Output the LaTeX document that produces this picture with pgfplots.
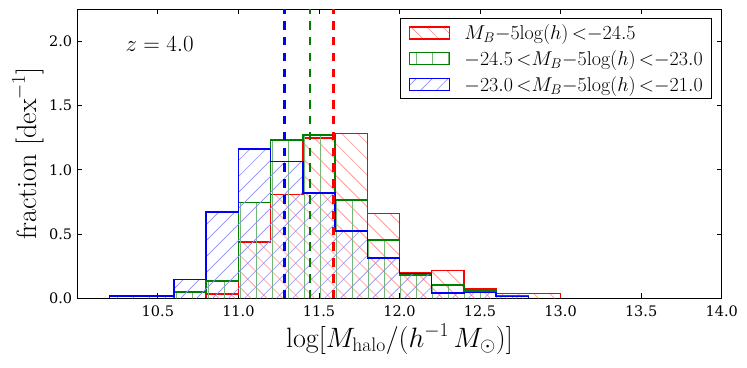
\RequirePackage{fix-cm}
\documentclass[border=0pt]{standalone}
\usepackage{fontspec}
\usepackage{pgfplots}
\pgfplotsset{compat=1.18}
\usetikzlibrary{patterns.meta}
\newfontfamily\tickfont{DejaVu Serif}
\definecolor{mred}{rgb}{1,0,0}
\definecolor{mgreen}{rgb}{0,0.5,0}
\definecolor{mblue}{rgb}{0,0,1}
\begin{document}
\begin{tikzpicture}
\begin{axis}[
    at={(0,0)}, anchor=south west,
    scale only axis, width=644.4pt, height=289pt,
    xmin=10, xmax=14, ymin=0, ymax=2.25,
    xtick={10.5,11,11.5,12,12.5,13,13.5,14},
    ytick={0,0.5,1,1.5,2},
    line width=1.1pt,
    major tick length=5pt,
    tick style={black, line width=0.9pt},
    tick label style={font=\tickfont\fontsize{14.5}{17}\selectfont},
    /pgf/number format/assume math mode=true,
    /pgf/number format/.cd, fixed, fixed zerofill, precision=1, /pgfplots/.cd,
    xticklabel style={inner sep=0pt, anchor=north, yshift=-6.7pt},
    yticklabel style={inner sep=0pt, anchor=east, xshift=-4.6pt},
    xlabel={$\log[M_{\rm halo}/(h^{-1}\,M_{\odot})]$},
    ylabel={fraction $[{\rm dex}^{-1}]$},
    label style={font=\fontsize{28}{33}\selectfont},
    xlabel style={at={(axis description cs:0.5,0)}, anchor=base, yshift=-48.7pt},
    ylabel style={at={(axis description cs:0,0.5)}, anchor=base, yshift=40.6pt},
    legend image code/.code={\draw[#1] (0pt,-6pt) rectangle (40pt,6pt);},
    legend cell align=left,
    legend style={at={(1,1)}, anchor=north east, xshift=-10pt, yshift=-9pt,
        draw=black, line width=1pt, inner xsep=8.5pt, inner ysep=6pt,
        row sep=9.2pt, column sep=14pt, nodes={inner sep=0pt},
        font=\fontsize{20}{24}\selectfont},
]

% red: brightest quasars
\addplot[mred, line width=1.5pt, const plot,
    pattern={Lines[angle=-45,distance=11.3pt,line width=0.6pt]}, pattern color=mred!45]
    coordinates {(10.8,0) (10.8,0.033) (11.0,0.44) (11.2,0.807) (11.4,1.247) (11.6,1.283)
    (11.8,0.66) (12.0,0.197) (12.2,0.218) (12.4,0.073) (12.6,0.039) (12.8,0.039) (13.0,0)};

% green: intermediate
\addplot[mgreen, line width=1.5pt, const plot,
    pattern={Lines[angle=90,distance=16pt,line width=0.6pt]}, pattern color=mgreen!55]
    coordinates {(10.6,0) (10.6,0.05) (10.8,0.135) (11.0,0.745) (11.2,1.234) (11.4,1.27)
    (11.6,0.766) (11.8,0.452) (12.0,0.18) (12.2,0.105) (12.4,0.055) (12.6,0.018) (12.8,0)};

% blue: faintest
\addplot[mblue, line width=1.5pt, const plot,
    pattern={Lines[angle=45,distance=11.3pt,line width=0.6pt]}, pattern color=mblue!45]
    coordinates {(10.2,0) (10.2,0.018) (10.4,0.018) (10.6,0.148) (10.8,0.67) (11.0,1.164)
    (11.2,1.065) (11.4,0.818) (11.6,0.525) (11.8,0.314) (12.0,0.195) (12.2,0.042)
    (12.4,0.044) (12.6,0.014) (12.8,0)};

% medians
\addplot[mblue, line width=2.5pt, dash pattern=on 8.5pt off 7.3pt, forget plot]
    coordinates {(11.287,0) (11.287,2.25)};
\addplot[mgreen, line width=2.5pt, dash pattern=on 8.5pt off 7.3pt, forget plot]
    coordinates {(11.444,0) (11.444,2.25)};
\addplot[mred, line width=2.5pt, dash pattern=on 8.5pt off 7.3pt, forget plot]
    coordinates {(11.59,0) (11.59,2.25)};

\legend{$M_B{-}5\mathrm{log}(h)\,{<}{-}24.5$,
        $-24.5\,{<}M_B{-}5\mathrm{log}(h)\,{<}{-}23.0$,
        $-23.0\,{<}M_B{-}5\mathrm{log}(h)\,{<}{-}21.0$}

\node[anchor=base west, font=\fontsize{23}{27}\selectfont]
    at (rel axis cs:0.0689,0.8533) {$z=4.0$};
\end{axis}
\pgfresetboundingbox
\path (-77.3pt,-68.7pt) rectangle (669.7pt,298.3pt);
\end{tikzpicture}
\end{document}
